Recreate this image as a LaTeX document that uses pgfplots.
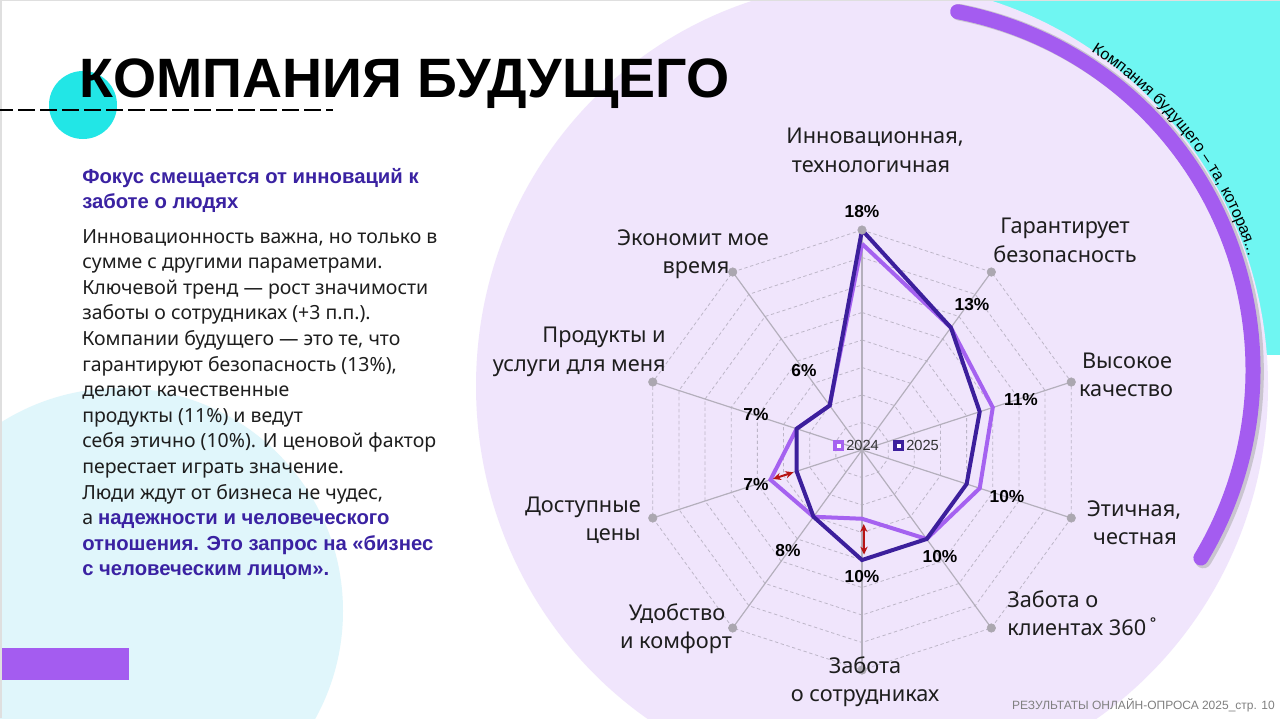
\documentclass[border=0pt]{standalone}
\usepackage{fontspec}
\setmainfont{Noto Sans}
\newfontfamily\lib{Liberation Sans}
\usepackage{pgfplots}
\pgfplotsset{compat=1.18}
\usepackage{pgfplotstable}
\usepgfplotslibrary{polar}
\usetikzlibrary{arrows.meta,decorations.text}

\definecolor{lav}{HTML}{F0E5FC}
\definecolor{cyanbg}{HTML}{6FF6F2}
\definecolor{cyanc}{HTML}{22E6E6}
\definecolor{paleblue}{HTML}{E0F6FB}
\definecolor{purp}{HTML}{A45CF0}
\definecolor{c2024}{HTML}{A562F0}
\definecolor{c2025}{HTML}{3C1F9C}
\definecolor{indigo}{HTML}{3A22A2}
\definecolor{arrowred}{HTML}{B81414}
\definecolor{labc}{HTML}{1E1E1E}
\definecolor{ringc}{HTML}{BDB6C8}
\definecolor{spokec}{HTML}{B4AFBC}
\definecolor{dotc}{HTML}{ABA7B0}

% values in percent; radius in the plot = value - 2 (chart centre = 2%)
\pgfplotstableread{
a v
90 17
54 13
18 12
-18 11
-54 10
-90 7
-126 8
-162 9
-198 7
-234 6
-270 17
}\yrA
\pgfplotstableread{
a v
90 18
54 13
18 11
-18 10
-54 10
-90 10
-126 8
-162 7
-198 7
-234 6
-270 18
}\yrB

\begin{document}
\begin{tikzpicture}[x=0.75pt,y=-0.75pt]
\useasboundingbox (0,0) rectangle (1280,718);
\clip (0,0) rectangle (1280,718);
\fill[white] (0,0) rectangle (1280,718);
\coordinate (chartc) at (862,450);

% background shapes
\fill[paleblue] (120,611) circle[radius=223];
\fill[purp] (0,648) rectangle (129,680);
\fill[cyanbg] (900,0) rectangle (1280,355);
\fill[lav] (872,386) ellipse[x radius=396, y radius=404];
\draw[gray!25, line width=1.2pt] (0,0.5) -- (1280,0.5);
\draw[gray!25, line width=1.2pt] (0.8,0) -- (0.8,718);

% purple arc with soft shadow
\draw[black!35, opacity=0.5, line width=12.5pt, line cap=round]
  ([shift={(-79:366)}]889.5,371.5) arc[start angle=-79, end angle=31, radius=366];
\draw[purp, line width=11.25pt, line cap=round]
  ([shift={(-79:365)}]888,370) arc[start angle=-79, end angle=31, radius=365];
\path[decorate, decoration={text along path,
   text={|\lib\fontsize{12}{14}\selectfont|Компания будущего – та, которая...},
   text align=left}]
  ([shift={(-57.5:378)}]888,370) arc[start angle=-57.5, end angle=-2, radius=378];

% title block
\fill[cyanc] (83,105) circle[radius=34];
\draw[black, line width=1.5pt, dash pattern=on 12.5pt off 4pt] (-4,110) -- (333,110);
\node[anchor=base west, inner sep=0pt, font=\lib\fontsize{41.6}{46}\selectfont\bfseries] at (79,97) {КОМПАНИЯ БУДУЩЕГО};

% body text
\begin{scope}[every node/.style={anchor=base west, inner sep=0pt, font=\fontsize{14.6}{18}\selectfont, text=labc}]
\node[font=\lib\fontsize{15.2}{18}\selectfont\bfseries, text=indigo] at (82,183) {Фокус смещается от инноваций к};
\node[font=\lib\fontsize{15.2}{18}\selectfont\bfseries, text=indigo] at (82,208) {заботе о людях};
\node at (82,243) {Инновационность важна, но только в};
\node at (82,268.6) {сумме с другими параметрами.};
\node at (82,294.2) {Ключевой тренд — рост значимости};
\node at (82,319.8) {заботы о сотрудниках (+3 п.п.).};
\node at (82,345.4) {Компании будущего — это те, что};
\node at (82,371) {гарантируют безопасность (13\%),};
\node at (82,396.6) {делают качественные};
\node at (82,422.2) {продукты (11\%) и ведут};
\node at (82,447.8) {себя этично (10\%). И ценовой фактор};
\node at (82,473.4) {перестает играть значение.};
\node at (82,499) {Люди ждут от бизнеса не чудес,};
\node at (82,524.6) {а \textcolor{indigo}{\lib\fontsize{15.2}{18}\selectfont\bfseries надежности и человеческого}};
\node[font=\lib\fontsize{15.2}{18}\selectfont\bfseries, text=indigo] at (82,550.2) {отношения. Это запрос на «бизнес};
\node[font=\lib\fontsize{15.2}{18}\selectfont\bfseries, text=indigo] at (82,575.8) {с человеческим лицом».};
\end{scope}

% radar chart
\begin{axis}[anchor=center, at={(chartc)}, x=10.3125pt, y=10.3125pt,
  xmin=-17, xmax=17, ymin=-17, ymax=17, hide axis, clip=false]
\pgfplotsinvokeforeach{2,4,6,8,10,12,14,16}{
  \addplot[ringc, line width=0.6pt, dash pattern=on 2.5pt off 2pt, data cs=polar, forget plot]
    coordinates {(90,#1)(54,#1)(18,#1)(-18,#1)(-54,#1)(-90,#1)(-126,#1)(-162,#1)(-198,#1)(-234,#1)(-270,#1)};
}
\pgfplotsinvokeforeach{90,54,18,-18,-54,-90,-126,-162,-198,-234}{
  \addplot[spokec, line width=0.9pt, data cs=polar, forget plot] coordinates {(#1,0)(#1,16)};
}
\addplot[only marks, mark=*, mark size=3.2pt, color=dotc, data cs=polar, forget plot]
  coordinates {(90,16)(54,16)(18,16)(-18,16)(-54,16)(-90,16)(-126,16)(-162,16)(-198,16)(-234,16)};
\addplot[c2024, line width=3pt, data cs=polar] table[x=a, y expr=\thisrow{v}-2] {\yrA};
\addplot[c2025, line width=3pt, data cs=polar] table[x=a, y expr=\thisrow{v}-2] {\yrB};
\addplot[arrowred, line width=1.5pt, {Stealth[length=6pt,width=5.5pt]}-{Stealth[length=6pt,width=5.5pt]},
  shorten <=2pt, shorten >=2.5pt, data cs=polar] coordinates {(-162,7)(-162,5)};
\addplot[arrowred, line width=1.5pt, {Stealth[length=6pt,width=5.5pt]}-{Stealth[length=6pt,width=5.5pt]},
  shorten <=4pt, shorten >=4pt, data cs=polar] coordinates {(-88.6,5)(-88.9,8)};
\end{axis}

% percentage labels
\begin{scope}[every node/.style={inner sep=0pt, font=\lib\fontsize{13}{15}\selectfont\bfseries, text=black}]
\node at (862,212) {18\%};
\node at (972,305) {13\%};
\node at (1021,400) {11\%};
\node at (1007,497) {10\%};
\node at (940,557) {10\%};
\node at (862,577) {10\%};
\node at (788,551) {8\%};
\node at (756,485) {7\%};
\node at (756,415) {7\%};
\node at (804,371) {6\%};
\end{scope}

% category labels
\begin{scope}[every node/.style={inner sep=0pt, font=\fontsize{16.3}{19}\selectfont, text=labc, anchor=base}]
\node at (875,143) {Инновационная,};
\node at (871,172) {технологичная};
\node at (1065,233) {Гарантирует};
\node at (1065,262) {безопасность};
\node at (1127,368) {Высокое};
\node at (1126,396) {качество};
\node at (1134,516) {Этичная,};
\node at (1135,544) {честная};
\node[anchor=base west] at (1007,607) {Забота о};
\node[anchor=base west] at (1007,635) {клиентах 360\,˚};
\node at (865,673) {Забота};
\node at (865,701) {о сотрудниках};
\node at (677,620) {Удобство};
\node at (676,648) {и комфорт};
\node[anchor=base east] at (641,512) {Доступные};
\node[anchor=base east] at (641,540) {цены};
\node[anchor=base east] at (666,342) {Продукты и};
\node[anchor=base east] at (666,371) {услуги для меня};
\node at (693,245) {Экономит мое};
\node at (696,273) {время};
\end{scope}

% legend
\fill[c2024] (833,440) rectangle (844,451);
\fill[white] (836.5,443.5) rectangle (840.5,447.5);
\node[anchor=west, inner sep=0pt, font=\lib\fontsize{11}{13}\selectfont, text=black!80] at (846,445.5) {2024};
\fill[c2025] (893,440) rectangle (904,451);
\fill[white] (896.5,443.5) rectangle (900.5,447.5);
\node[anchor=west, inner sep=0pt, font=\lib\fontsize{11}{13}\selectfont, text=black!80] at (906,445.5) {2025};

% footer
\node[anchor=base east, inner sep=0pt, font=\lib\fontsize{9}{11}\selectfont, text=black!50] at (1275,709) {РЕЗУЛЬТАТЫ ОНЛАЙН-ОПРОСА 2025\_стр. 10};
\end{tikzpicture}
\end{document}
